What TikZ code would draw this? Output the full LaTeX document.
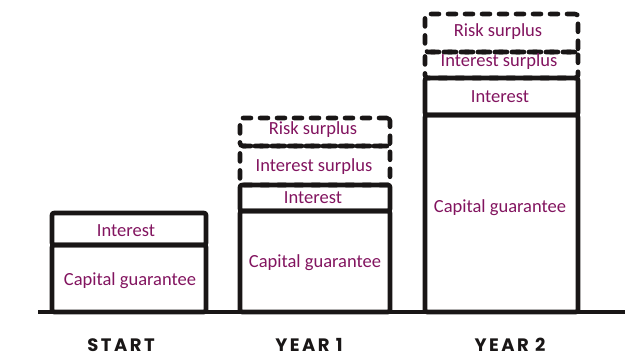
\documentclass[tikz,border=0pt]{standalone}
\usepackage{fontspec}
\setmainfont{Carlito}
\newfontfamily\labfont[LetterSpace=14]{Poppins}
\definecolor{txt}{RGB}{130,20,95}
\definecolor{ink}{RGB}{25,22,22}
\begin{document}
\begin{tikzpicture}[x=1pt,y=-1pt,
  every node/.style={inner sep=0pt,outer sep=0pt,text=txt,font=\fontsize{18.5}{20}\selectfont},
  solidbox/.style={draw=ink,line width=4.6pt,line join=round,rounded corners=2pt,anchor=north west},
  dashbox/.style={draw=ink,line width=4.6pt,line cap=round,dash pattern=on 8pt off 9pt,rounded corners=3pt,anchor=north west},
  lab/.style={text=ink,font=\labfont\bfseries\fontsize{18}{20}\selectfont}]
\useasboundingbox (0,0) rectangle (627,357);
% START
\node[solidbox,minimum width=154pt,minimum height=32pt] (sint) at (52,213) {};
\node[solidbox,minimum width=154pt,minimum height=67pt] (scap) at (52,245) {};
\node (sintt) at (126,231) {Interest};
\node (scapt) at (130,281) {Capital guarantee};
% YEAR 1
\node[dashbox,minimum width=150pt,minimum height=28pt] (arisk) at (240,118) {};
\node[dashbox,minimum width=150pt,minimum height=39pt] (aisur) at (240,146) {};
\node[solidbox,minimum width=150pt,minimum height=26pt] (aint) at (240,185) {};
\node[solidbox,minimum width=150pt,minimum height=101pt] (acap) at (240,211) {};
\node (arisktxt) at (313,130) {Risk surplus};
\node (aisurtxt) at (314,167) {Interest surplus};
\node (ainttxt) at (313,198) {Interest};
\node (acaptxt) at (315,263) {Capital guarantee};
% YEAR 2
\node[dashbox,minimum width=153pt,minimum height=38pt] (brisk) at (425,14) {};
\node[dashbox,minimum width=153pt,minimum height=26pt] (bisur) at (425,52) {};
\node[solidbox,minimum width=153pt,minimum height=37pt] (bint) at (425,78) {};
\node[solidbox,minimum width=153pt,minimum height=197pt] (bcap) at (425,115) {};
\node (brisktxt) at (498,32) {Risk surplus};
\node (bisurtxt) at (499,62) {Interest surplus};
\node (binttxt) at (500,97) {Interest};
\node (bcaptxt) at (500,208) {Capital guarantee};
% ground
\coordinate (g1) at (38,312);
\coordinate (g2) at (625,312);
\draw[draw=ink,line width=4.6pt] (g1) -- (g2);
% labels
\node[lab] (l0) at (121,345) {START};
\node[lab] (l1) at (309,345) {YEAR 1};
\node[lab] (l2) at (510,345) {YEAR 2};
\end{tikzpicture}
\end{document}
